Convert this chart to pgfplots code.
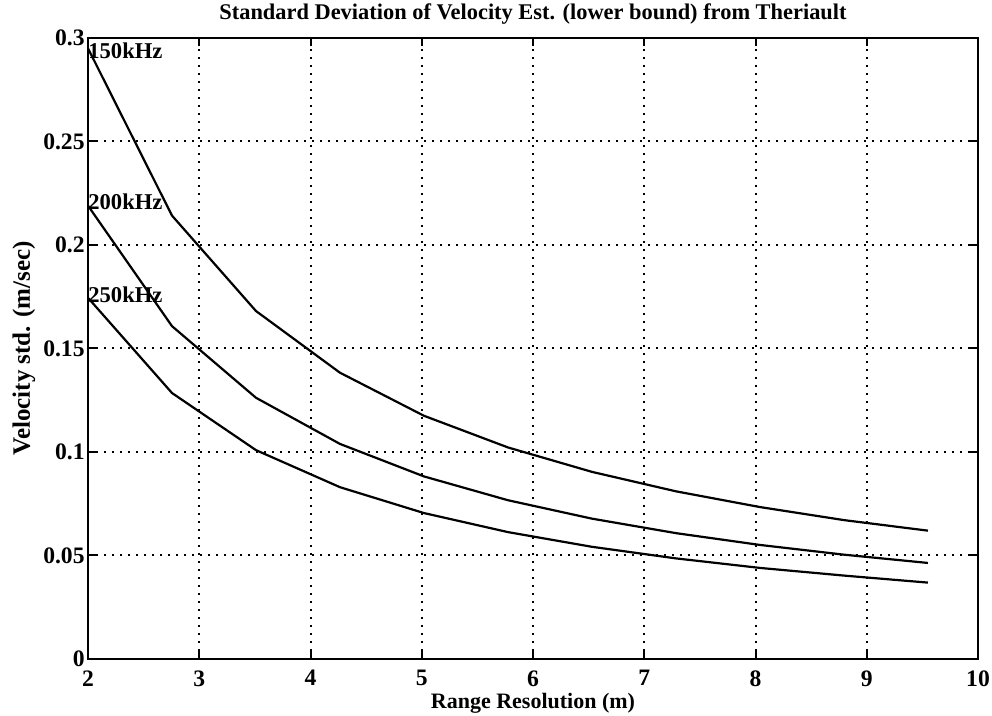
\documentclass[border=0pt]{standalone}
\usepackage{fontspec}
\setmainfont{Liberation Serif}
\usepackage{pgfplots}
\pgfplotsset{compat=1.18}
\pgfplotstableread{
x      f150    f200    f250
2.000  0.2950  0.2190  0.1745
2.755  0.2142  0.1608  0.1285
3.510  0.1681  0.1262  0.1009
4.265  0.1383  0.1039  0.0830
5.020  0.1175  0.0882  0.0705
5.775  0.1022  0.0767  0.0613
6.530  0.0904  0.0678  0.0542
7.285  0.0810  0.0608  0.0486
8.040  0.0734  0.0551  0.0440
8.795  0.0671  0.0504  0.0403
9.550  0.0620  0.0464  0.0369
}\datatable
\begin{document}
\begin{tikzpicture}
\begin{axis}[
  scale only axis, width=445pt, height=310.5pt,
  xmin=2, xmax=10, ymin=0, ymax=0.3,
  xtick={2,3,4,5,6,7,8,9,10},
  xticklabels={2,3,4,5,6,7,8,9,10},
  ytick={0,0.05,0.1,0.15,0.2,0.25,0.3},
  yticklabels={0,0.05,0.1,0.15,0.2,0.25,0.3},
  scaled y ticks=false,
  grid=major,
  major grid style={black, line width=1pt, dash pattern=on 1pt off 3pt},
  axis line style={black, line width=1.3pt},
  tick style={black, line width=1pt},
  tick align=inside,
  major tick length=4pt,
  ticklabel style={font=\bfseries\fontsize{11.8}{13}\selectfont},
  xticklabel style={inner sep=5.5pt},
  yticklabel style={inner sep=1.5pt},
  title={Standard Deviation of Velocity Est. (lower bound) from Theriault},
  title style={font=\bfseries\fontsize{11.2}{13}\selectfont, yshift=-2.5pt},
  xlabel={Range Resolution (m)},
  ylabel={Velocity std. (m/sec)},
  xlabel style={font=\bfseries\fontsize{11}{13}\selectfont, yshift=5.5pt},
  ylabel style={font=\bfseries\fontsize{12.5}{14}\selectfont, yshift=-1pt},
]
\addplot[black, line width=1.1pt] table[x=x, y=f150] {\datatable};
\addplot[black, line width=1.1pt] table[x=x, y=f200] {\datatable};
\addplot[black, line width=1.1pt] table[x=x, y=f250] {\datatable};
\node[anchor=west, inner sep=0pt, font=\bfseries\fontsize{11.3}{13}\selectfont] at (axis cs:2,0.294) {150kHz};
\node[anchor=west, inner sep=0pt, font=\bfseries\fontsize{11.3}{13}\selectfont] at (axis cs:2,0.221) {200kHz};
\node[anchor=west, inner sep=0pt, font=\bfseries\fontsize{11.3}{13}\selectfont] at (axis cs:2,0.176) {250kHz};
\end{axis}
\pgfresetboundingbox
\path ([xshift=-44pt,yshift=-28pt]current axis.south west) rectangle ([xshift=7pt,yshift=19pt]current axis.north east);
\end{tikzpicture}
\end{document}
